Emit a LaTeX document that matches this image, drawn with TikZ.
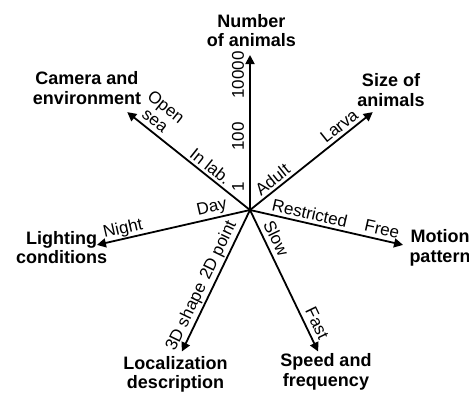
\documentclass[tikz,border=0pt]{standalone}
\usepackage{fontspec}
\setmainfont{Liberation Sans}
\usetikzlibrary{arrows.meta,calc}
\begin{document}
\begin{tikzpicture}[x=1pt,y=1pt,
  axisarrow/.style={line width=1.8pt,-{Triangle[length=9pt,width=9pt]}},
  ttl/.style={font=\fontsize{18}{19.5}\selectfont\bfseries,align=center,inner sep=0pt},
  lbl/.style={font=\fontsize{17}{17.5}\selectfont,inner sep=0pt,anchor=center,align=center},
]
\useasboundingbox (0,0) rectangle (469,392);
\def\aN{90}
\def\aS{38.571}
\def\aM{-12.857}
\def\aF{-64.286}
\def\aL{-115.714}
\def\aD{-167.143}
\def\aC{141.429}
\coordinate (O) at (250,182);
\coordinate (tN) at ($(O)+(\aN:155pt)$);
\coordinate (tS) at ($(O)+(\aS:157pt)$);
\coordinate (tM) at ($(O)+(\aM:157pt)$);
\coordinate (tF) at ($(O)+(\aF:157pt)$);
\coordinate (tL) at ($(O)+(\aL:157pt)$);
\coordinate (tD) at ($(O)+(\aD:157pt)$);
\coordinate (tC) at ($(O)+(\aC:157pt)$);
\draw[axisarrow] (O) -- (tN);
\draw[axisarrow] (O) -- (tS);
\draw[axisarrow] (O) -- (tM);
\draw[axisarrow] (O) -- (tF);
\draw[axisarrow] (O) -- (tL);
\draw[axisarrow] (O) -- (tD);
\draw[axisarrow] (O) -- (tC);
% titles
\node[ttl] (hN) at (251.5,361.5) {Number\\of animals};
\node[ttl] (hC) at (87,304) {Camera and\\environment};
\node[ttl] (hS) at (391,302) {Size of\\animals};
\node[ttl] (hD) at (61.7,144.5) {Lighting\\conditions};
\node[ttl] (hM) at (440,144) {Motion\\pattern};
\node[ttl] (hL) at (175.5,17.5) {Localization\\description};
\node[ttl] (hF) at (326,20) {Speed and\\frequency};
% number axis
\node[lbl,rotate=90] (n1) at ($(O)+(\aN:23.3pt)+(180:12pt)$) {1};
\node[lbl,rotate=90] (n100) at ($(O)+(\aN:73.3pt)+(180:12pt)$) {100};
\node[lbl,rotate=90] (n10000) at ($(O)+(\aN:135pt)+(180:12pt)$) {10000};
% camera axis
\node[lbl,rotate=-38.571] (cLab) at ($(O)+(\aC:58pt)+(51.429:9.5pt)$) {In lab.};
\node[lbl,rotate=-38.571] (cSea) at ($(O)+(\aC:129.8pt)+(51.429:19.7pt)$) {Open\\sea};
% size axis
\node[lbl,rotate=38.571] (sAdult) at ($(O)+(\aS:36.7pt)+(128.571:10pt)$) {Adult};
\node[lbl,rotate=38.571] (sLarva) at ($(O)+(\aS:122pt)+(128.571:10pt)$) {Larva};
% motion axis
\node[lbl,rotate=-12.857] (mRes) at ($(O)+(\aM:59pt)+(77.143:10.4pt)$) {Restricted};
\node[lbl,rotate=-12.857] (mFree) at ($(O)+(\aM:133pt)+(77.143:10.6pt)$) {Free};
% speed axis
\node[lbl,rotate=-64.286] (fSlow) at ($(O)+(\aF:37pt)+(25.714:11.5pt)$) {Slow};
\node[lbl,rotate=-64.286] (fFast) at ($(O)+(\aF:131pt)+(25.714:11.5pt)$) {Fast};
% localization axis
\node[lbl,rotate=64.286] (l2D) at ($(O)+(\aL:50pt)+(154.286:10.5pt)$) {2D point};
\node[lbl,rotate=64.286] (l3D) at ($(O)+(\aL:124pt)+(154.286:10.5pt)$) {3D shape};
% lighting axis
\node[lbl,rotate=12.857] (dDay) at ($(O)+(\aD:36.6pt)+(102.857:10.4pt)$) {Day};
\node[lbl,rotate=12.857] (dNight) at ($(O)+(\aD:128pt)+(102.857:9.5pt)$) {Night};
\end{tikzpicture}
\end{document}
